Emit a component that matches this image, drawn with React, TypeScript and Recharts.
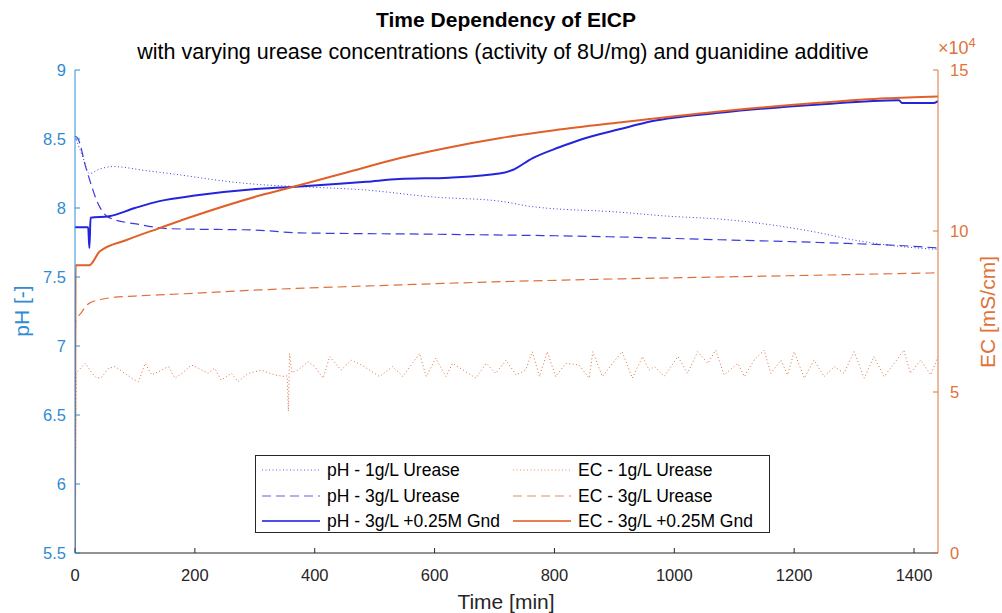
import React from 'react';
import { LineChart, Line, XAxis, YAxis, Legend } from 'recharts';

// ---- data (time in min, pH, EC in units of 1e4 mS/cm) ----
const timeTicks = [0, 200, 400, 600, 800, 1000, 1200, 1400];
const phTicks = [5.5, 6, 6.5, 7, 7.5, 8, 8.5, 9];
const ecTicks = [0, 5, 10, 15];

const phUrease1: [number, number][] = [
  [0, 8.52], [13, 8.37], [24, 8.25], [40, 8.28], [63, 8.3], [120, 8.27], [175, 8.24], [240, 8.2],
  [308, 8.17], [374, 8.155], [486, 8.13], [597, 8.08], [708, 8.05], [763, 8.01], [908, 7.97],
  [992, 7.94], [1075, 7.92], [1158, 7.88], [1242, 7.82], [1297, 7.77], [1380, 7.72], [1440, 7.7],
];

const phUrease3: [number, number][] = [
  [0, 8.52], [4, 8.51], [19, 8.28], [41, 8.01], [57, 7.93], [108, 7.88], [158, 7.85], [300, 7.84],
  [374, 7.82], [600, 7.81], [908, 7.79], [1075, 7.77], [1242, 7.75], [1408, 7.72], [1440, 7.71],
];

const phGnd: [number, number][] = [
  [0, 7.86], [22, 7.86], [24, 7.71], [26, 7.93], [57, 7.94], [100, 8.0], [141, 8.05], [200, 8.09],
  [308, 8.14], [374, 8.155], [441, 8.175], [486, 8.19], [541, 8.21], [624, 8.22], [708, 8.25],
  [730, 8.275], [763, 8.36], [808, 8.44], [847, 8.5], [908, 8.57], [964, 8.63], [1075, 8.69],
  [1242, 8.75], [1375, 8.78], [1380, 8.76], [1432, 8.76], [1440, 8.775],
];

const ecUrease1: [number, number][] = [
  [0, 0], [2, 5.6], [10, 5.75], [17, 5.89], [28, 5.6], [36, 5.43], [44, 5.45], [56, 5.74], [67, 5.79],
  [83, 5.58], [97, 5.4], [106, 5.32], [117, 5.89], [128, 5.53], [144, 5.68], [156, 5.79], [167, 5.43],
  [180, 5.6], [194, 5.84], [206, 5.74], [222, 5.58], [233, 5.74], [244, 5.37], [261, 5.58], [272, 5.32],
  [289, 5.58], [311, 5.68], [333, 5.53], [350, 5.48], [354, 5.5], [356, 4.4], [358, 6.2], [362, 5.6],
  [372, 5.68], [389, 5.94], [400, 5.79], [414, 5.43], [425, 6.1], [444, 5.68], [461, 5.99], [478, 5.84],
  [508, 5.48], [530, 5.79], [547, 5.48], [575, 6.2], [586, 5.48], [602, 6.05], [619, 5.48], [630, 5.89],
  [652, 5.63], [669, 5.43], [686, 5.89], [702, 5.58], [719, 5.99], [736, 5.53], [752, 5.68], [763, 6.25],
  [775, 5.48], [788, 6.25], [802, 5.48], [819, 5.89], [841, 5.84], [858, 5.43], [864, 6.25], [880, 5.48],
  [897, 5.89], [913, 6.25], [930, 5.43], [947, 6.1], [958, 5.68], [967, 5.79], [983, 5.48], [1006, 6.1],
  [1022, 5.58], [1039, 6.25], [1056, 5.89], [1069, 6.3], [1083, 5.53], [1106, 5.89], [1117, 5.48],
  [1133, 5.99], [1150, 6.3], [1161, 5.58], [1178, 5.99], [1189, 5.53], [1200, 6.25], [1217, 5.43],
  [1233, 5.99], [1250, 5.48], [1267, 5.79], [1283, 5.58], [1300, 6.25], [1317, 5.43], [1333, 6.1],
  [1350, 5.48], [1367, 5.89], [1383, 6.3], [1394, 5.58], [1411, 5.99], [1428, 5.53], [1440, 6.1],
];

const ecUrease3: [number, number][] = [
  [0, 0], [1, 7.2], [10, 7.45], [24, 7.76], [57, 7.92], [100, 7.98], [158, 8.03], [308, 8.17],
  [500, 8.3], [700, 8.42], [900, 8.51], [1100, 8.58], [1300, 8.65], [1440, 8.7],
];

const ecGnd: [number, number][] = [
  [0, 0], [1, 8.94], [24, 8.94], [41, 9.36], [86, 9.72], [141, 10.09], [196, 10.45], [308, 11.1],
  [374, 11.42], [450, 11.8], [541, 12.26], [620, 12.58], [708, 12.88], [800, 13.13], [908, 13.37],
  [1075, 13.71], [1242, 13.98], [1353, 14.12], [1440, 14.18],
];

// ---- styles ----
const LEFT_C = '#2f8bd2';
const RIGHT_C = '#e0733a';
const AX_C = '#262626';
const PH_C = '#3b3be0';
const PH_SOLID = '#2424dc';
const EC_C = '#e0703a';
const EC_SOLID = '#e0602a';
const FONT = '"Liberation Sans", Arial, Helvetica, sans-serif';

const seriesDefs = [
  { key: 'phU1', label: 'pH - 1g/L Urease', data: phUrease1, axis: 'ph', color: PH_C, width: 1, dash: '1 2.5', curve: 'monotone' },
  { key: 'ecU1', label: 'EC - 1g/L Urease', data: ecUrease1, axis: 'ec', color: EC_C, width: 1, dash: '1 2.5', curve: 'linear' },
  { key: 'phU3', label: 'pH - 3g/L Urease', data: phUrease3, axis: 'ph', color: PH_C, width: 1.2, dash: '9 5', curve: 'monotone' },
  { key: 'ecU3', label: 'EC - 3g/L Urease', data: ecUrease3, axis: 'ec', color: EC_C, width: 1.2, dash: '9 5', curve: 'monotone' },
  { key: 'phG', label: 'pH - 3g/L +0.25M Gnd', data: phGnd, axis: 'ph', color: PH_SOLID, width: 2, dash: undefined, curve: 'monotone' },
  { key: 'ecG', label: 'EC - 3g/L +0.25M Gnd', data: ecGnd, axis: 'ec', color: EC_SOLID, width: 2, dash: undefined, curve: 'monotone' },
];

// merge into one table keyed by time
const rowMap = new Map<number, any>();
seriesDefs.forEach((s) => {
  s.data.forEach(([t, v]) => {
    if (!rowMap.has(t)) rowMap.set(t, { t });
    rowMap.get(t)[s.key] = v;
  });
});
const table = Array.from(rowMap.values()).sort((a, b) => a.t - b.t);

const fmt = (v: number) => String(v);

const LegendBox = () => (
  <div
    style={{
      width: 515,
      height: 78,
      border: `1px solid ${AX_C}`,
      background: '#fff',
      display: 'grid',
      gridTemplateColumns: '251px 262px',
      gridTemplateRows: '26px 26px 24px',
      paddingTop: 1,
      boxSizing: 'border-box',
      fontFamily: FONT,
      fontSize: 17.5,
      color: '#000',
    }}
  >
    {seriesDefs.map((s) => (
      <div key={s.key} style={{ display: 'flex', alignItems: 'center', paddingLeft: 6, whiteSpace: 'nowrap' }}>
        <svg width={60} height={10} style={{ marginRight: 5, flex: 'none' }}>
          <line x1={0} y1={5} x2={58} y2={5} stroke={s.color} strokeWidth={s.width} strokeDasharray={s.dash} opacity={0.8} />
        </svg>
        <span>{s.label}</span>
      </div>
    ))}
  </div>
);

export default function App() {
  return (
    <div style={{ position: 'absolute', left: 0, top: 0, width: 1002, height: 613, background: '#fff', fontFamily: FONT }}>
      <div style={{ position: 'absolute', left: 5, width: 1002, top: 7, lineHeight: '26px', textAlign: 'center', fontWeight: 'bold', fontSize: 21, color: '#000' }}>
        Time Dependency of EICP
      </div>
      <div style={{ position: 'absolute', left: 2, width: 1002, top: 39, lineHeight: '26px', textAlign: 'center', fontSize: 21.5, color: '#000' }}>
        with varying urease concentrations (activity of 8U/mg) and guanidine additive
      </div>
      <div style={{ position: 'absolute', left: 938, top: 32, fontSize: 18, lineHeight: '22px', color: RIGHT_C }}>
        ×10<sup style={{ fontSize: 13 }}>4</sup>
      </div>
      <div style={{ position: 'absolute', left: 22, top: 311, transform: 'translate(-50%,-50%) rotate(-90deg)', fontSize: 21, color: LEFT_C, whiteSpace: 'nowrap' }}>
        pH [-]
      </div>
      <div style={{ position: 'absolute', left: 988, top: 312, transform: 'translate(-50%,-50%) rotate(-90deg)', fontSize: 21, color: RIGHT_C, whiteSpace: 'nowrap' }}>
        EC [mS/cm]
      </div>
      <div style={{ position: 'absolute', left: 5, width: 1002, top: 590, lineHeight: '24px', textAlign: 'center', fontSize: 21, color: AX_C }}>
        Time [min]
      </div>
      <LineChart width={1002} height={613} data={table} margin={{ top: 70, right: 20, bottom: 30, left: 30 }}>
        <XAxis
          dataKey="t"
          type="number"
          domain={[0, 1440]}
          ticks={timeTicks}
          allowDataOverflow
          height={30}
          stroke={AX_C}
          tickSize={-5}
          tickMargin={21}
          tick={{ fill: AX_C, fontSize: 16.5, fontFamily: FONT }}
        />
        <YAxis
          yAxisId="ph"
          orientation="left"
          domain={[5.5, 9]}
          ticks={phTicks}
          allowDataOverflow
          width={45}
          stroke={LEFT_C}
          tickSize={-5}
          tickMargin={14}
          tickFormatter={fmt}
          tick={{ fill: LEFT_C, fontSize: 16.5, fontFamily: FONT }}
        />
        <YAxis
          yAxisId="ec"
          orientation="right"
          domain={[0, 15]}
          ticks={ecTicks}
          allowDataOverflow
          width={44}
          stroke={RIGHT_C}
          tickSize={-5}
          tickMargin={17}
          tickFormatter={fmt}
          tick={{ fill: RIGHT_C, fontSize: 16.5, fontFamily: FONT, textAnchor: 'start' }}
        />
        <Legend
          layout="horizontal"
          verticalAlign="middle"
          align="center"
          content={() => <LegendBox />}
          wrapperStyle={{ position: 'absolute', left: 255, top: 455, width: 515, height: 78 }}
        />
        {seriesDefs.map((s) => (
          <Line
            key={s.key}
            yAxisId={s.axis}
            dataKey={s.key}
            type={s.curve as any}
            stroke={s.color}
            strokeWidth={s.width}
            strokeDasharray={s.dash}
            dot={false}
            activeDot={false}
            connectNulls
            isAnimationActive={false}
          />
        ))}
      </LineChart>
    </div>
  );
}
